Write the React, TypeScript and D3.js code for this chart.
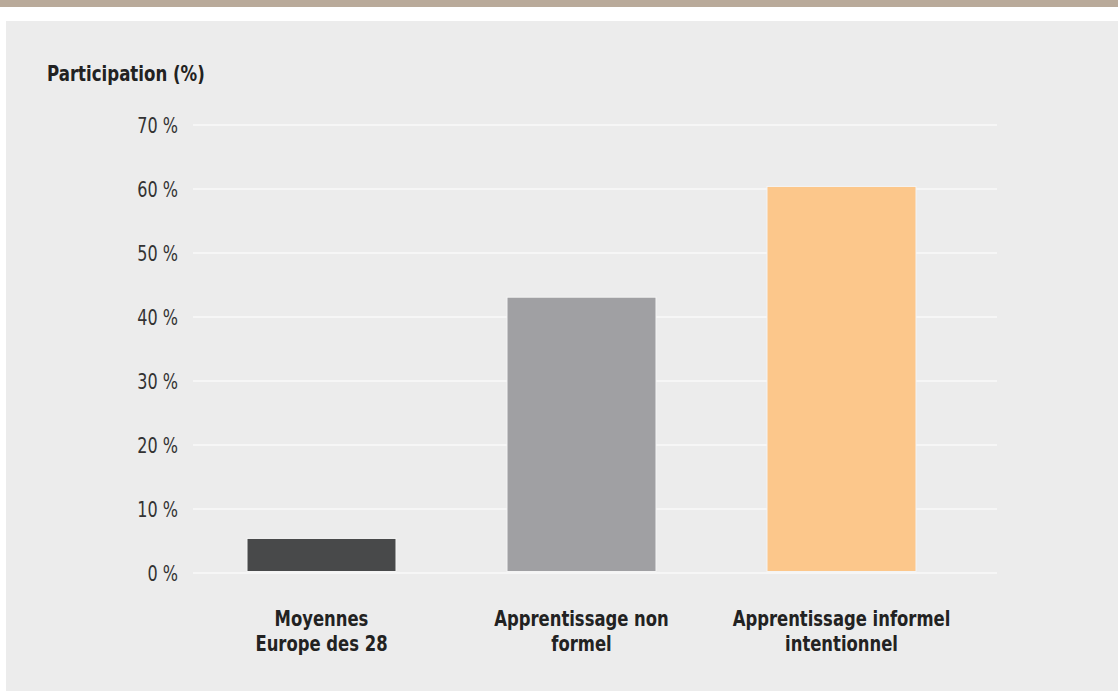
import React, { useEffect, useRef } from "react";
import * as d3 from "d3";

const categories: string[][] = [
  ["Moyennes", "Europe des 28"],
  ["Apprentissage non", "formel"],
  ["Apprentissage informel", "intentionnel"],
];
const values: number[] = [5.4, 43.1, 60.4];
const barColors: string[] = ["#48494a", "#a0a0a3", "#fcc78b"];
const yTicks: number[] = [0, 10, 20, 30, 40, 50, 60, 70];
const yTitle = "Participation (%)";

const W = 1118;
const H = 691;
const FONT = "'DejaVu Sans Condensed', 'DejaVu Sans', sans-serif";
const SX = 0.83;

export default function App() {
  const ref = useRef<SVGSVGElement | null>(null);

  useEffect(() => {
    document.body.style.margin = "0";
    const svg = d3.select(ref.current);
    svg.selectAll("*").remove();

    svg.append("rect").attr("x", 0).attr("y", 0).attr("width", W).attr("height", H).attr("fill", "#ffffff");
    svg.append("rect").attr("x", 0).attr("y", 0).attr("width", W).attr("height", 7).attr("fill", "#b9aa9a");
    svg.append("rect").attr("x", 6).attr("y", 21).attr("width", W - 6).attr("height", H - 21).attr("fill", "#ececec");

    const y = d3.scaleLinear().domain([0, 70]).range([573, 125]);
    const x = d3
      .scaleBand<number>()
      .domain(d3.range(values.length))
      .range([191.5, 971.5])
      .paddingInner(0.427)
      .paddingOuter(0.2135);

    const gridX0 = 193;
    const gridX1 = 997;

    svg
      .append("g")
      .selectAll("line")
      .data(yTicks)
      .join("line")
      .attr("x1", gridX0)
      .attr("x2", gridX1)
      .attr("y1", (d) => y(d))
      .attr("y2", (d) => y(d))
      .attr("stroke", "#ffffff")
      .attr("stroke-width", 1.2);

    svg
      .append("g")
      .selectAll("text")
      .data(yTicks)
      .join("text")
      .attr("transform", (d) => `translate(178,${y(d) + 8}) scale(${0.81},1)`)
      .attr("text-anchor", "end")
      .attr("font-family", FONT)
      .attr("font-size", 22)
      .attr("fill", "#333333")
      .text((d) => `${d} %`);

    svg
      .append("g")
      .selectAll("rect")
      .data(values)
      .join("rect")
      .attr("x", (_, i) => x(i)!)
      .attr("width", x.bandwidth())
      .attr("y", (d) => y(d))
      .attr("height", (d) => y(0) - 1.5 - y(d))
      .attr("fill", (_, i) => barColors[i])
      .attr("stroke", "#f4f4f4")
      .attr("stroke-width", 1);

    const lab = svg
      .append("g")
      .selectAll("text")
      .data(categories)
      .join("text")
      .attr("transform", (_, i) => `translate(${x(i)! + x.bandwidth() / 2},625.5) scale(${SX},1)`)
      .attr("text-anchor", "middle")
      .attr("font-family", FONT)
      .attr("font-weight", "bold")
      .attr("font-size", 22)
      .attr("fill", "#222222");
    lab
      .selectAll("tspan")
      .data((d) => d)
      .join("tspan")
      .attr("x", 0)
      .attr("dy", (_, j) => (j === 0 ? 0 : 26))
      .text((d) => d);

    svg
      .append("text")
      .attr("transform", `translate(47,81) scale(0.84,1)`)
      .attr("font-family", FONT)
      .attr("font-weight", "bold")
      .attr("font-size", 22)
      .attr("fill", "#222222")
      .text(yTitle);
  }, []);

  return <svg ref={ref} width={W} height={H} style={{ display: "block" }} />;
}
